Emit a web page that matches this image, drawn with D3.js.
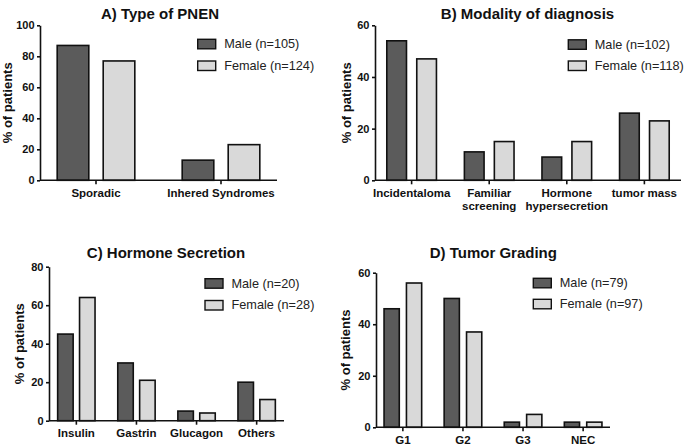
<!DOCTYPE html>
<html><head><meta charset="utf-8">
<script src="https://cdn.jsdelivr.net/npm/d3@7"></script>
<style>
body{margin:0;background:#fff;}
svg{display:block;font-family:"Liberation Sans",Arial,sans-serif;}
</style></head>
<body><svg id="c" width="685" height="445"></svg>
<script>
// ---- data ----
const seriesNames = ["Male", "Female"];
const colors = ["#5b5b5b", "#d9d9d9"];

const titleA = "A) Type of PNEN";
const catsA = [["Sporadic"], ["Inhered Syndromes"]];
const maleA = [87, 13];
const femaleA = [77, 23];
const legendA = ["Male (n=105)", "Female (n=124)"];
const ticksA = [0, 20, 40, 60, 80, 100];

const titleB = "B) Modality of diagnosis";
const catsB = [["Incidentaloma"], ["Familiar", "screening"], ["Hormone", "hypersecretion"], ["tumor mass"]];
const maleB = [54, 11, 9, 26];
const femaleB = [47, 15, 15, 23];
const legendB = ["Male (n=102)", "Female (n=118)"];
const ticksB = [0, 20, 40, 60];

const titleC = "C) Hormone Secretion";
const catsC = [["Insulin"], ["Gastrin"], ["Glucagon"], ["Others"]];
const maleC = [45, 30, 5, 20];
const femaleC = [64, 21, 4, 11];
const legendC = ["Male (n=20)", "Female (n=28)"];
const ticksC = [0, 20, 40, 60, 80];

const titleD = "D) Tumor Grading";
const catsD = [["G1"], ["G2"], ["G3"], ["NEC"]];
const maleD = [46, 50, 2, 2];
const femaleD = [56, 37, 5, 2];
const legendD = ["Male (n=79)", "Female (n=97)"];
const ticksD = [0, 20, 40, 60];

const yLabel = "% of patients";

// ---- drawing ----
const svg = d3.select("#c");

function panel(o) {
  const g = svg.append("g");
  const labels = o.cats.map(c => c.join(" "));
  const x = d3.scaleBand().domain(labels).range([o.x0, o.x1])
    .paddingInner(o.pi).paddingOuter(o.po);
  const xs = d3.scaleBand().domain(seriesNames).range([0, x.bandwidth()])
    .paddingInner(o.ps).paddingOuter(0);
  const y = d3.scaleLinear().domain([0, d3.max(o.ticks)]).range([o.yb, o.yt]);

  const rows = labels.map((l, i) => ({l, v: [o.male[i], o.female[i]]}));
  const grp = g.selectAll("g.grp").data(rows).join("g")
    .attr("transform", d => `translate(${x(d.l)},0)`);
  grp.selectAll("rect").data(d => d.v.map((v, k) => ({v, k}))).join("rect")
    .attr("x", d => xs(seriesNames[d.k]))
    .attr("width", xs.bandwidth())
    .attr("y", d => y(d.v))
    .attr("height", d => y(0) - y(d.v))
    .attr("fill", d => colors[d.k])
    .attr("stroke", "#111").attr("stroke-width", 1.6);

  // y axis
  const ya = g.append("g").attr("transform", `translate(${o.x0},0)`)
    .call(d3.axisLeft(y).tickValues(o.ticks).tickSize(3).tickPadding(2.5).tickSizeOuter(0));
  ya.select(".domain").attr("stroke", "#111").attr("stroke-width", 1.6);
  ya.selectAll(".tick line").attr("stroke", "#111").attr("stroke-width", 1.6);
  ya.selectAll(".tick text").attr("font-size", 11).attr("font-weight", "bold")
    .attr("font-family", "Liberation Sans, Arial, sans-serif").attr("fill", "#111");

  // x axis
  const xa = g.append("g").attr("transform", `translate(0,${o.yb})`)
    .call(d3.axisBottom(x).tickSize(4).tickSizeOuter(0).tickFormat(""));
  xa.select(".domain").attr("stroke", "#111").attr("stroke-width", 1.6)
    .attr("d", `M${o.x0},0H${o.x1}`);
  xa.selectAll(".tick line").attr("stroke", "#111").attr("stroke-width", 1.6);
  xa.selectAll(".tick").each(function(d, i) {
    const t = d3.select(this).append("text")
      .attr("text-anchor", "middle").attr("font-size", 11.5).attr("font-weight", "bold")
      .attr("fill", "#111").attr("y", 16.3);
    o.cats[i].forEach((line, j) => {
      t.append("tspan").attr("x", 0).attr("y", 16.3 + j * 13.2).text(line);
    });
  });

  // y label
  g.append("text")
    .attr("transform", `translate(${o.ylx},${(o.yt + o.yb) / 2}) rotate(-90)`)
    .attr("text-anchor", "middle").attr("dominant-baseline", "central")
    .attr("font-size", 13).attr("font-weight", "bold").attr("fill", "#111")
    .text(yLabel);

  // title
  g.append("text").attr("x", o.tx).attr("y", o.ty)
    .attr("text-anchor", "middle").attr("font-size", 15).attr("font-weight", "bold")
    .attr("fill", "#111").text(o.title);

  // legend
  const lg = g.append("g");
  o.legend.forEach((txt, k) => {
    lg.append("rect").attr("x", o.lx).attr("y", o.ly[k]).attr("width", 18).attr("height", 9.5)
      .attr("fill", colors[k]).attr("stroke", "#111").attr("stroke-width", 1.4);
    lg.append("text").attr("x", o.lx + 26.5).attr("y", o.ly[k] + 4.9)
      .attr("dominant-baseline", "central").attr("font-size", 12.7).attr("fill", "#222")
      .text(txt);
  });
}

panel({title: titleA, cats: catsA, male: maleA, female: femaleA, legend: legendA, ticks: ticksA,
  x0: 40, x1: 277, yt: 25.3, yb: 180.3, pi: 0.379, po: 0.1375, ps: 0.313,
  ylx: 7.5, tx: 160, ty: 19, lx: 197.7, ly: [39.3, 61]});
panel({title: titleB, cats: catsB, male: maleB, female: femaleB, legend: legendB, ticks: ticksB,
  x0: 375, x1: 681, yt: 25.3, yb: 180.3, pi: 0.36, po: 0.152, ps: 0.343,
  ylx: 346.5, tx: 527.5, ty: 19, lx: 568.3, ly: [39.8, 61]});
panel({title: titleC, cats: catsC, male: maleC, female: femaleC, legend: legendC, ticks: ticksC,
  x0: 49, x1: 284, yt: 266.7, yb: 420.7, pi: 0.378, po: 0.144, ps: 0.292,
  ylx: 19, tx: 166, ty: 258, lx: 205, ly: [278.7, 300.5]});
panel({title: titleD, cats: catsD, male: maleD, female: femaleD, legend: legendD, ticks: ticksD,
  x0: 376, x1: 610, yt: 272.7, yb: 427.3, pi: 0.374, po: 0.134, ps: 0.32,
  ylx: 345, tx: 493.3, ty: 258, lx: 533.3, ly: [278.3, 299.3]});
</script>
</body></html>
